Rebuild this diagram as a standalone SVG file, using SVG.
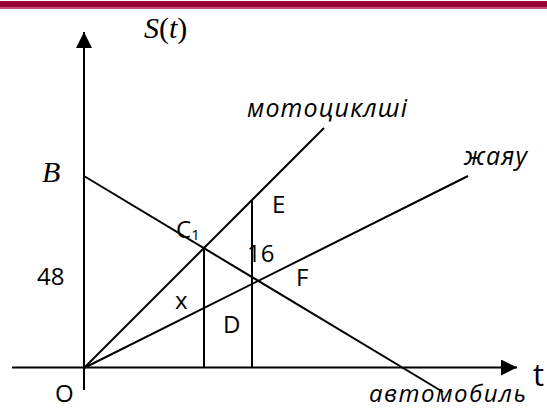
<svg xmlns="http://www.w3.org/2000/svg" width="547" height="408" viewBox="0 0 547 408">
<defs>
<style>
.ln{stroke:#000;stroke-width:2;fill:none}
.lb{font-family:"Open Sans","Liberation Sans",sans-serif;font-size:24px;fill:#000}
.it{font-family:"Open Sans","Liberation Sans",sans-serif;font-style:italic;font-size:25px;fill:#000}
.tm{font-family:"Liberation Serif",serif;font-size:30px;fill:#000}
</style>
<marker id="ah" viewBox="0 0 16 16" refX="16" refY="8" markerWidth="16" markerHeight="16" markerUnits="userSpaceOnUse" orient="auto">
<path d="M0,0 L16,8 L0,16 Z" fill="#000"/>
</marker>
</defs>
<rect x="0" y="0" width="547" height="408" fill="#fff"/>
<rect x="0" y="1" width="547" height="7" fill="#990033"/>
<rect x="0" y="7" width="547" height="2" fill="#c05070"/>
<g id="connectors">
<line class="ln" x1="84" y1="390" x2="84" y2="32" marker-end="url(#ah)"/>
<line class="ln" x1="12" y1="367.5" x2="517" y2="367.5" marker-end="url(#ah)"/>
<line class="ln" x1="84" y1="176" x2="443" y2="392"/>
<line class="ln" x1="84" y1="368" x2="324" y2="128"/>
<line class="ln" x1="84" y1="368" x2="468" y2="176"/>
<line class="ln" x1="204" y1="248" x2="204" y2="368"/>
<line class="ln" x1="252" y1="200" x2="252" y2="368"/>
</g>
<g id="labels">
<text class="tm" x="144" y="38"><tspan font-style="italic">S</tspan>(<tspan font-style="italic">t</tspan>)</text>
<text class="tm" x="42" y="182" font-style="italic">B</text>
<text class="lb" x="37" y="285">48</text>
<text class="lb" x="176" y="238">C<tspan style="font-size:15px" dy="2">1</tspan></text>
<text class="lb" x="272" y="213">E</text>
<text class="lb" x="247" y="262">16</text>
<text class="lb" x="296" y="286">F</text>
<text class="lb" x="175" y="309">x</text>
<text class="lb" x="223" y="333">D</text>
<text class="lb" x="55" y="402">O</text>
<text class="lb" x="533" y="386" style="font-size:31px">t</text>
<text class="it" x="247" y="117" textLength="160" lengthAdjust="spacing">мотоциклші</text>
<text class="it" x="464" y="165" textLength="63" lengthAdjust="spacing">жаяу</text>
<text class="it" x="369" y="402" style="font-size:24px" textLength="157" lengthAdjust="spacing">автомобиль</text>
</g>
</svg>
